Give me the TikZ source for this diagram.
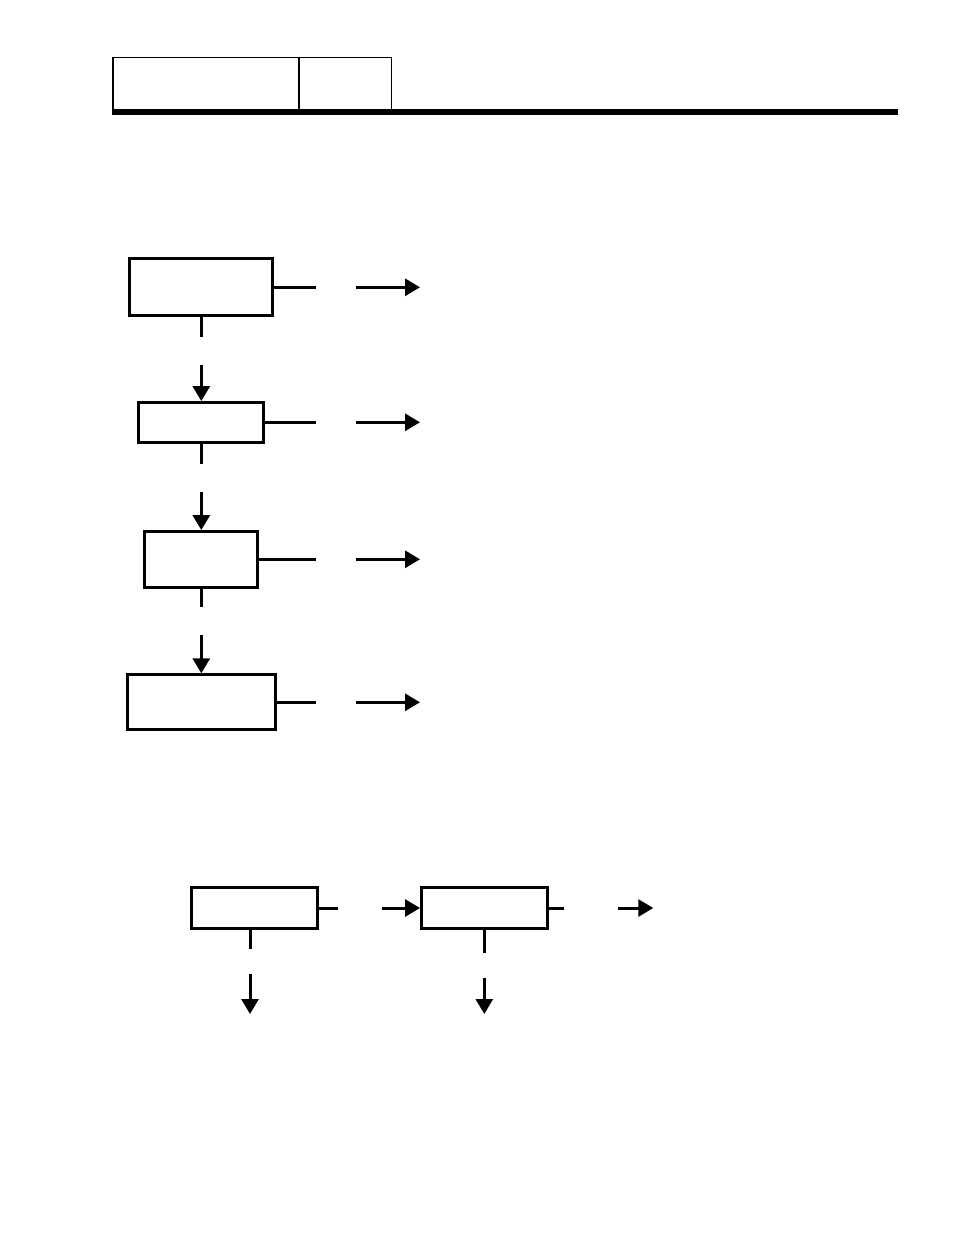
\documentclass[tikz,border=0pt]{standalone}
\usetikzlibrary{arrows.meta}
\begin{document}
\begin{tikzpicture}[x=1pt,y=-1pt,
  box/.style={draw, line width=3pt, inner sep=0pt, rectangle},
  conn/.style={line width=3pt},
  arr/.style={line width=3pt, -{Triangle[length=15pt,width=17pt]}}]
\useasboundingbox (0,0) rectangle (954,1235);
% header
\fill (112,108.5) rectangle (898,114.5);
\draw[line width=1.7pt] (112.3,57.5) -- (392,57.5);
\draw[line width=1.7pt] (113.2,56.7) -- (113.2,109);
\draw[line width=2pt] (299,56.7) -- (299,109);
\draw[line width=1.3pt] (391.3,56.7) -- (391.3,109);
% vertical chain
\node[box, minimum width=143pt, minimum height=57pt] (b1) at (201.3,287.3) {};
\node[box, minimum width=125pt, minimum height=40.3pt] (b2) at (201.3,422.7) {};
\node[box, minimum width=113pt, minimum height=56.3pt] (b3) at (201.3,559.7) {};
\node[box, minimum width=147.7pt, minimum height=54.7pt] (b4) at (201.3,702.2) {};
% right outputs
\foreach \b/\y in {b1/287.3,b2/422.3,b3/559.3,b4/702.3}{
  \coordinate (\b s) at (315.7,\y);
  \coordinate (\b a) at (356,\y);
  \coordinate (\b t) at (420,\y);
  \draw[conn] (\b.east |- \b s) -- (\b s);
  \draw[arr] (\b a) -- (\b t);
}
% down links
\coordinate (d1) at (201.3,336.7); \coordinate (u2) at (201.3,365);
\coordinate (d2) at (201.3,464); \coordinate (u3) at (201.3,491.7);
\coordinate (d3) at (201.3,606.7); \coordinate (u4) at (201.3,635);
\draw[conn] (b1.south) -- (d1); \draw[arr] (u2) -- (b2.north);
\draw[conn] (b2.south) -- (d2); \draw[arr] (u3) -- (b3.north);
\draw[conn] (b3.south) -- (d3); \draw[arr] (u4) -- (b4.north);
% bottom row
\node[box, minimum width=126pt, minimum height=41pt] (b5) at (254.5,908) {};
\node[box, minimum width=126.3pt, minimum height=41pt] (b6) at (484.7,908) {};
\coordinate (s5) at (337.7,908); \coordinate (a5) at (382,908);
\draw[conn] (b5.east) -- (s5); \draw[arr] (a5) -- (b6.west);
\coordinate (s6) at (564,908); \coordinate (a6) at (618,908); \coordinate (t6) at (653.3,908);
\draw[conn] (b6.east) -- (s6); \draw[arr] (a6) -- (t6);
\coordinate (d5) at (250,949); \coordinate (e5) at (250,974); \coordinate (f5) at (250,1014);
\coordinate (d6) at (484.3,952.7); \coordinate (e6) at (484.3,977.7); \coordinate (f6) at (484.3,1014);
\draw[conn] (b5.south -| d5) -- (d5); \draw[arr] (e5) -- (f5);
\draw[conn] (b6.south -| d6) -- (d6); \draw[arr] (e6) -- (f6);
\end{tikzpicture}
\end{document}
